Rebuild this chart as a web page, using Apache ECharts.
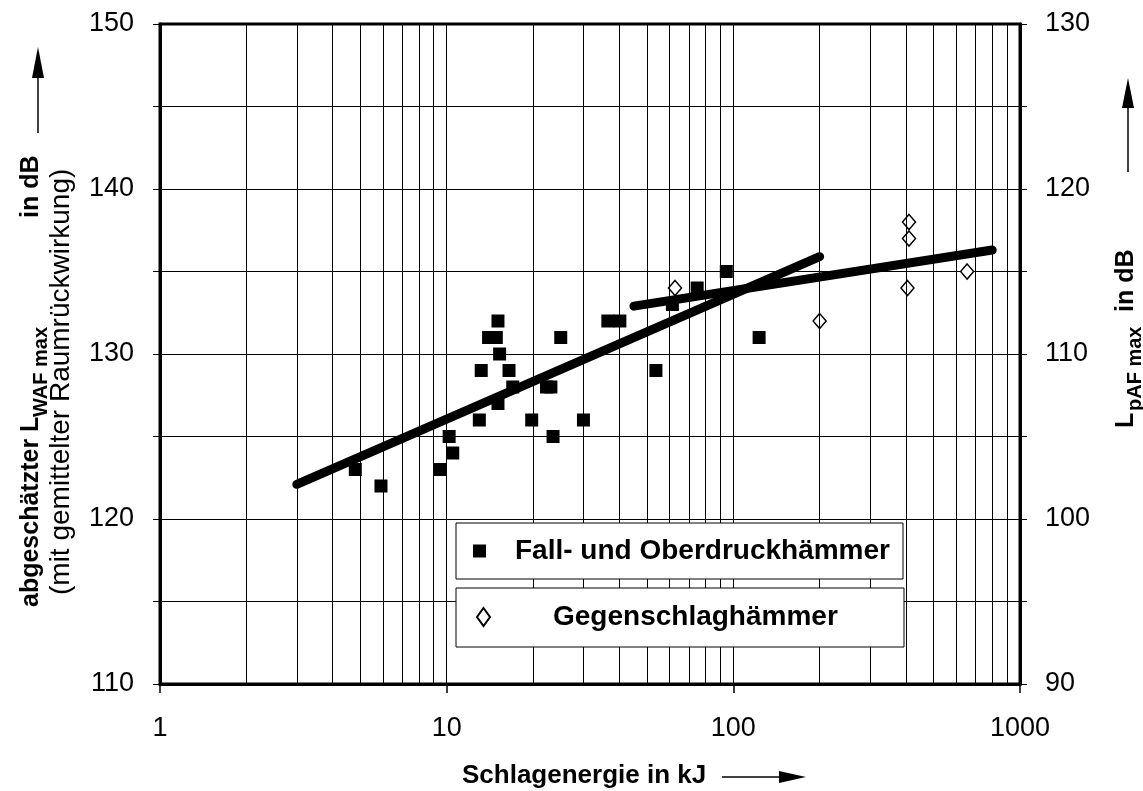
<!DOCTYPE html>
<html>
<head>
<meta charset="utf-8">
<script src="https://cdn.jsdelivr.net/npm/echarts@6/dist/echarts.min.js"></script>
<style>
  html, body { margin: 0; padding: 0; background: #fff; }
  #chart { width: 1143px; height: 791px; }
</style>
</head>
<body>
<div id="chart"></div>
<script>
// Schlagenergie (kJ) und abgeschätzter Pegel (dB) – Fall- und Oberdruckhämmer
const fallEnergie = [4.8, 5.9, 9.5, 10.2, 10.5, 13.0, 13.2, 14.0, 14.9, 15.1, 15.1, 15.3, 16.5, 17.0, 19.8, 22.3, 23.1, 23.5, 25.0, 30.0, 36.5, 40.2, 53.7, 61.3, 74.8, 94.5, 123];
const fallPegel   = [123, 122, 123, 125, 124, 126, 129, 131, 131, 132, 127, 130, 129, 128, 126, 128, 128, 125, 131, 126, 132, 132, 129, 133, 134, 135, 131];

// Gegenschlaghämmer
const gegenEnergie = [62.6, 200, 410, 410, 405, 654];
const gegenPegel   = [134, 132, 138, 137, 134, 135];

// Ausgleichsgeraden (Anfangs- und Endpunkt)
const trendFallX = [3, 200];
const trendFallY = [122.1, 135.9];
const trendGegenX = [45, 800];
const trendGegenY = [132.9, 136.3];

// Achsen
const xTickLabels = ['1', '10', '100', '1000'];
const leftRange = [110, 150];
const rightRange = [90, 130];
const logMinorLines = [2, 3, 4, 5, 6, 7, 8, 9, 20, 30, 40, 50, 60, 70, 80, 90, 200, 300, 400, 500, 600, 700, 800, 900];

const legendFall = 'Fall- und Oberdruckhämmer';
const legendGegen = 'Gegenschlaghämmer';

const FF = "'Liberation Sans', Arial, Helvetica, sans-serif";
const zip = (xs, ys) => xs.map((x, i) => [x, ys[i]]);

const chart = echarts.init(document.getElementById('chart'), null, { renderer: 'canvas' });

// senkrecht gesetzter Text (von unten nach oben lesbar)
function vText(x, y, text, size, weight) {
  return {
    type: 'text', x: x, y: y, rotation: Math.PI / 2, z: 20,
    style: {
      text: text, fill: '#000',
      font: (weight || 'normal') + ' ' + size + 'px ' + FF,
      align: 'left', verticalAlign: 'middle',
      textAlign: 'left', textVerticalAlign: 'middle'
    }
  };
}

const option = {
  animation: false,
  backgroundColor: '#fff',
  grid: {
    left: 160, right: 123, top: 24, bottom: 107,
    show: true, borderColor: '#000', borderWidth: 3, backgroundColor: 'transparent'
  },
  xAxis: {
    type: 'log', logBase: 10, min: 1, max: 1000,
    axisLine: { show: true, onZero: false, lineStyle: { color: '#000', width: 3 } },
    axisTick: { show: true, length: 9, lineStyle: { color: '#000', width: 1.5 } },
    axisLabel: {
      color: '#000', fontFamily: FF, fontSize: 27, margin: 31,
      formatter: v => {
        const s = String(Math.round(v));
        return xTickLabels.indexOf(s) >= 0 ? s : '';
      }
    },
    splitLine: { show: true, lineStyle: { color: '#000', width: 1 } },
    minorTick: { show: false }, minorSplitLine: { show: false }
  },
  yAxis: [
    {
      type: 'value', position: 'left', min: leftRange[0], max: leftRange[1], interval: 5,
      axisLine: { show: true, lineStyle: { color: '#000', width: 3 } },
      axisTick: { show: true, length: 7, lineStyle: { color: '#000', width: 1 } },
      axisLabel: { color: '#000', fontFamily: FF, fontSize: 27, margin: 26,
        formatter: v => (v % 10 === 0 ? String(v) : '') },
      splitLine: { show: true, lineStyle: { color: '#000', width: 1 } }
    },
    {
      type: 'value', position: 'right', min: rightRange[0], max: rightRange[1], interval: 5,
      axisLine: { show: true, lineStyle: { color: '#000', width: 3 } },
      axisTick: { show: true, length: 7, lineStyle: { color: '#000', width: 1 } },
      axisLabel: { color: '#000', fontFamily: FF, fontSize: 27, margin: 25,
        formatter: v => (v % 10 === 0 ? String(v) : '') },
      splitLine: { show: false }
    }
  ],
  legend: [
    {
      data: [{ name: legendFall, icon: 'rect' }],
      left: 456, top: 523, orient: 'horizontal',
      itemWidth: 13, itemHeight: 13,
      padding: [13, 13, 13, 17],
      backgroundColor: '#fff', borderColor: '#000', borderWidth: 1,
      selectedMode: false, z: 10,
      textStyle: { fontFamily: FF, fontSize: 28, fontWeight: 'bold', color: '#000',
        lineHeight: 30, padding: [0, 0, 0, 24], width: 375 }
    },
    {
      data: [{ name: legendGegen, icon: 'diamond' }],
      left: 456, top: 588, orient: 'horizontal',
      itemWidth: 13, itemHeight: 18,
      padding: [14, 13, 15, 20],
      backgroundColor: '#fff', borderColor: '#000', borderWidth: 1,
      selectedMode: false, z: 10,
      textStyle: { fontFamily: FF, fontSize: 28, fontWeight: 'bold', color: '#000',
        lineHeight: 30, padding: [0, 0, 0, 58], width: 338 }
    }
  ],
  series: [
    {
      // logarithmische Zwischenlinien des Rasters
      name: 'raster', type: 'line', data: [[1, 110]], showSymbol: false, silent: true,
      lineStyle: { width: 0 }, z: 1,
      markLine: {
        silent: true, animation: false, symbol: ['none', 'none'],
        label: { show: false }, emphasis: { disabled: true },
        lineStyle: { color: '#000', width: 1, type: 'solid' },
        data: logMinorLines.map(v => ({ xAxis: v }))
      }
    },
    {
      name: legendFall, type: 'scatter', data: zip(fallEnergie, fallPegel),
      symbol: 'rect', symbolSize: 13, itemStyle: { color: '#000', opacity: 1 }, z: 3
    },
    {
      name: legendGegen, type: 'scatter', data: zip(gegenEnergie, gegenPegel),
      symbol: 'diamond', symbolSize: [13, 15],
      itemStyle: { color: '#fff', borderColor: '#000', borderWidth: 1.5, opacity: 1 }, z: 3
    },
    {
      name: 'trendFall', type: 'line', data: zip(trendFallX, trendFallY),
      showSymbol: false, symbol: 'none', silent: true, z: 4,
      lineStyle: { color: '#000', width: 9, cap: 'round' }
    },
    {
      name: 'trendGegen', type: 'line', data: zip(trendGegenX, trendGegenY),
      showSymbol: false, symbol: 'none', silent: true, z: 4,
      lineStyle: { color: '#000', width: 9, cap: 'round' }
    }
  ],
  graphic: [
    // linke Achsenbeschriftung
    vText(31, 607, 'abgeschätzter L', 25, 'bold'),
    vText(41, 417, 'WAF max', 20, 'bold'),
    vText(31, 218, 'in dB', 25, 'bold'),
    vText(61, 595, '(mit gemittelter Raumrückwirkung)', 28, 'normal'),
    // rechte Achsenbeschriftung
    vText(1126, 428, 'L', 25, 'bold'),
    vText(1135, 411, 'pAF max', 20, 'bold'),
    vText(1126, 312, 'in dB', 25, 'bold'),
    // Pfeile an den Achsen
    { type: 'line', shape: { x1: 38, y1: 133, x2: 38, y2: 72 }, style: { stroke: '#000', lineWidth: 1.5 } },
    { type: 'polygon', shape: { points: [[32, 78], [44, 78], [38, 47]] }, style: { fill: '#000' } },
    { type: 'line', shape: { x1: 1128, y1: 172, x2: 1128, y2: 103 }, style: { stroke: '#000', lineWidth: 1.5 } },
    { type: 'polygon', shape: { points: [[1122, 108], [1134, 108], [1128, 78]] }, style: { fill: '#000' } },
    // x-Achsentitel
    {
      type: 'text', x: 462, y: 776, z: 20,
      style: { text: 'Schlagenergie in kJ', fill: '#000', font: 'bold 26px ' + FF,
        align: 'left', verticalAlign: 'middle', textAlign: 'left', textVerticalAlign: 'middle' }
    },
    { type: 'line', shape: { x1: 722, y1: 777, x2: 782, y2: 777 }, style: { stroke: '#000', lineWidth: 1.5 } },
    { type: 'polygon', shape: { points: [[779, 771], [779, 783], [806, 777]] }, style: { fill: '#000' } }
  ]
};

chart.setOption(option);
</script>
</body>
</html>
